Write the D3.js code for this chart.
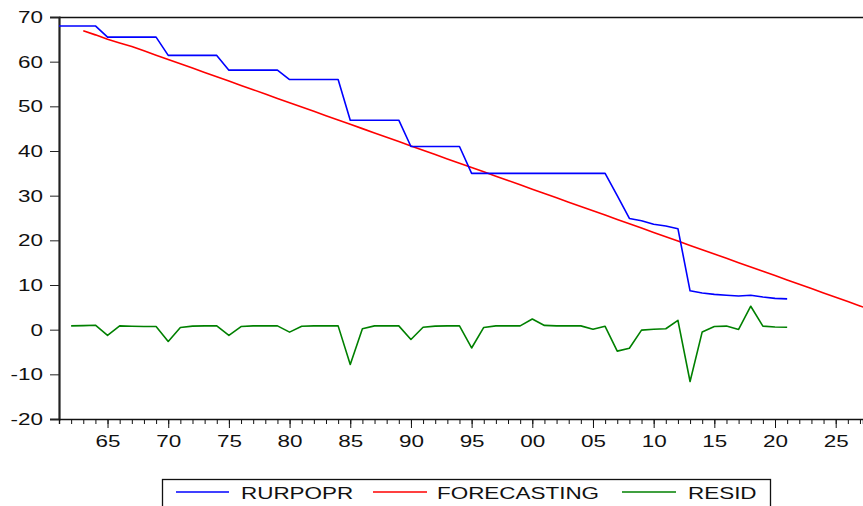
<!DOCTYPE html>
<html>
<head>
<meta charset="utf-8">
<script src="https://cdn.jsdelivr.net/npm/d3@7"></script>
<style>
  html, body { margin: 0; padding: 0; background: #fff; }
  svg { display: block; }
  text { font-family: "Liberation Sans", Arial, sans-serif; fill: #111; }
</style>
</head>
<body>
<svg id="chart" width="863" height="506"></svg>
<script>
// ---- data ----
const rurpoprYears = d3.range(1961, 2022);
const rurpopr = [
  68.0, 68.0, 68.0, 68.0,
  65.5, 65.5, 65.5, 65.5, 65.5,
  61.4, 61.4, 61.4, 61.4, 61.4,
  58.1, 58.1, 58.1, 58.1, 58.1,
  56.0, 56.0, 56.0, 56.0, 56.0,
  46.9, 46.9, 46.9, 46.9, 46.9,
  41.0, 41.0, 41.0, 41.0, 41.0,
  35.0, 35.0, 35.0, 35.0, 35.0, 35.0, 35.0, 35.0, 35.0, 35.0, 35.0, 35.0,
  30.0, 24.9, 24.4, 23.6, 23.2, 22.6,
  8.7, 8.2, 7.9, 7.7, 7.55, 7.7, 7.3, 7.0, 6.9
];
const forecastYears = d3.range(1963, 2029);
const forecasting = [
  66.9, 66.0, 65.0, 64.2, 63.4, 62.43, 61.46, 60.50, 59.53, 58.56,
  57.59, 56.62, 55.66, 54.69, 53.72, 52.75, 51.78, 50.82, 49.85, 48.88,
  47.91, 46.94, 45.98, 45.01, 44.04, 43.07, 42.10, 41.14, 40.17, 39.20,
  38.23, 37.26, 36.30, 35.33, 34.36, 33.39, 32.42, 31.46, 30.49, 29.52,
  28.55, 27.58, 26.62, 25.65, 24.68, 23.71, 22.74, 21.78, 20.81, 19.84,
  18.87, 17.90, 16.94, 15.97, 15.00, 14.03, 13.06, 12.10, 11.13, 10.16,
  9.19, 8.22, 7.26, 6.29, 5.32, 4.35
];
const residYears = d3.range(1962, 2022);
const resid = [
  0.85, 0.9, 1.0, -1.3, 0.85, 0.75, 0.7, 0.7, -2.65, 0.5,
  0.8, 0.85, 0.85, -1.3, 0.7, 0.85, 0.85, 0.85, -0.55, 0.75,
  0.85, 0.85, 0.85, -7.8, 0.2, 0.85, 0.85, 0.85, -2.2, 0.55,
  0.8, 0.85, 0.85, -4.1, 0.5, 0.85, 0.85, 0.85, 2.4, 0.95,
  0.85, 0.85, 0.85, 0.1, 0.75, -4.8, -4.15, -0.1, 0.1, 0.2,
  2.1, -11.6, -0.5, 0.7, 0.8, 0.05, 5.25, 0.8, 0.6, 0.55
];
const yTicks = [-20, -10, 0, 10, 20, 30, 40, 50, 60, 70];
const xMajorTicks = d3.range(1965, 2026, 5);
const xMinorTicks = d3.range(1961, 2028);
const seriesNames = ["RURPOPR", "FORECASTING", "RESID"];
const seriesColors = ["#0000ff", "#ff0000", "#008000"];

// ---- layout ----
const svg = d3.select("#chart");
const pLeft = 59, pRight = 863, pTop = 17, pBottom = 419;
const stretchX = 1.32;   // the reference text is horizontally widened
const fontSize = 17;

const x = d3.scaleLinear().domain([1961, 2027.25]).range([pLeft, pRight]);
const y = d3.scaleLinear().domain([-20, 70]).range([pBottom, pTop]);

// widen a text element horizontally while keeping its anchor point
function widen(node) {
  const w = node.getComputedTextLength();
  const anchor = node.getAttribute("text-anchor") || "start";
  const x0 = +(node.getAttribute("x") || 0);
  const W = w * stretchX;
  let xs = x0;
  if (anchor === "end") xs = x0 - W;
  else if (anchor === "middle") xs = x0 - W / 2;
  node.setAttribute("text-anchor", "start");
  node.setAttribute("x", xs);
  node.setAttribute("textLength", W);
  node.setAttribute("lengthAdjust", "spacingAndGlyphs");
}

svg.append("defs").append("clipPath").attr("id", "plotclip")
  .append("rect").attr("x", pLeft).attr("y", pTop).attr("width", pRight - pLeft).attr("height", pBottom - pTop);

// top border
svg.append("line").attr("x1", pLeft).attr("x2", pRight).attr("y1", pTop + 0.5).attr("y2", pTop + 0.5)
  .attr("stroke", "#111").attr("stroke-width", 1.4);

// y axis
const yAxis = svg.append("g").attr("transform", `translate(${pLeft},0)`)
  .call(d3.axisLeft(y).tickValues(yTicks).tickSize(9).tickPadding(7).tickFormat(d => String(d)));
yAxis.select(".domain").attr("stroke", "#222").attr("stroke-width", 2.2);
yAxis.selectAll(".tick line").attr("stroke", "#222").attr("stroke-width", 1);
yAxis.selectAll("text").attr("font-size", fontSize).attr("fill", "#111").attr("text-anchor", "end")
  .each(function () { widen(this); });

// x axis minor
const xMinor = svg.append("g").attr("transform", `translate(0,${pBottom})`)
  .call(d3.axisBottom(x).tickValues(xMinorTicks).tickSize(5).tickFormat(""));
xMinor.select(".domain").attr("stroke", "#111").attr("stroke-width", 1.4);
xMinor.selectAll(".tick line").attr("stroke", "#111");

// x axis major
const xMajor = svg.append("g").attr("transform", `translate(0,${pBottom})`)
  .call(d3.axisBottom(x).tickValues(xMajorTicks).tickSize(9).tickPadding(7)
    .tickFormat(d => String(d % 100).padStart(2, "0")));
xMajor.select(".domain").remove();
xMajor.selectAll(".tick line").attr("stroke", "#111");
xMajor.selectAll("text").attr("font-size", fontSize).attr("fill", "#111").attr("text-anchor", "middle")
  .each(function () { widen(this); });

// lines
const plot = svg.append("g").attr("clip-path", "url(#plotclip)");
const lineGen = d3.line().x(d => x(d[0])).y(d => y(d[1]));

const series = [
  rurpoprYears.map((yr, i) => [yr, rurpopr[i]]),
  forecastYears.map((yr, i) => [yr, forecasting[i]]),
  residYears.map((yr, i) => [yr, resid[i]])
];
[2, 1, 0].forEach(k => {
  plot.append("path").datum(series[k])
    .attr("fill", "none")
    .attr("stroke", seriesColors[k])
    .attr("stroke-width", 1.6)
    .attr("stroke-linejoin", "round")
    .attr("d", lineGen);
});

// legend
const lg = svg.append("g");
lg.append("rect").attr("x", 162.5).attr("y", 479.5).attr("width", 608).attr("height", 40)
  .attr("fill", "#fff").attr("stroke", "#111").attr("stroke-width", 1.3);
const legendItems = [
  { x1: 176, x2: 229, tx: 241 },
  { x1: 373, x2: 427, tx: 437 },
  { x1: 622, x2: 676, tx: 688 }
];
legendItems.forEach((it, i) => {
  lg.append("line").attr("x1", it.x1).attr("x2", it.x2).attr("y1", 492).attr("y2", 492)
    .attr("stroke", seriesColors[i]).attr("stroke-width", 1.3);
  lg.append("text").attr("x", it.tx).attr("y", 499).attr("font-size", fontSize)
    .attr("text-anchor", "start").text(seriesNames[i])
    .each(function () { widen(this); });
});
</script>
</body>
</html>
